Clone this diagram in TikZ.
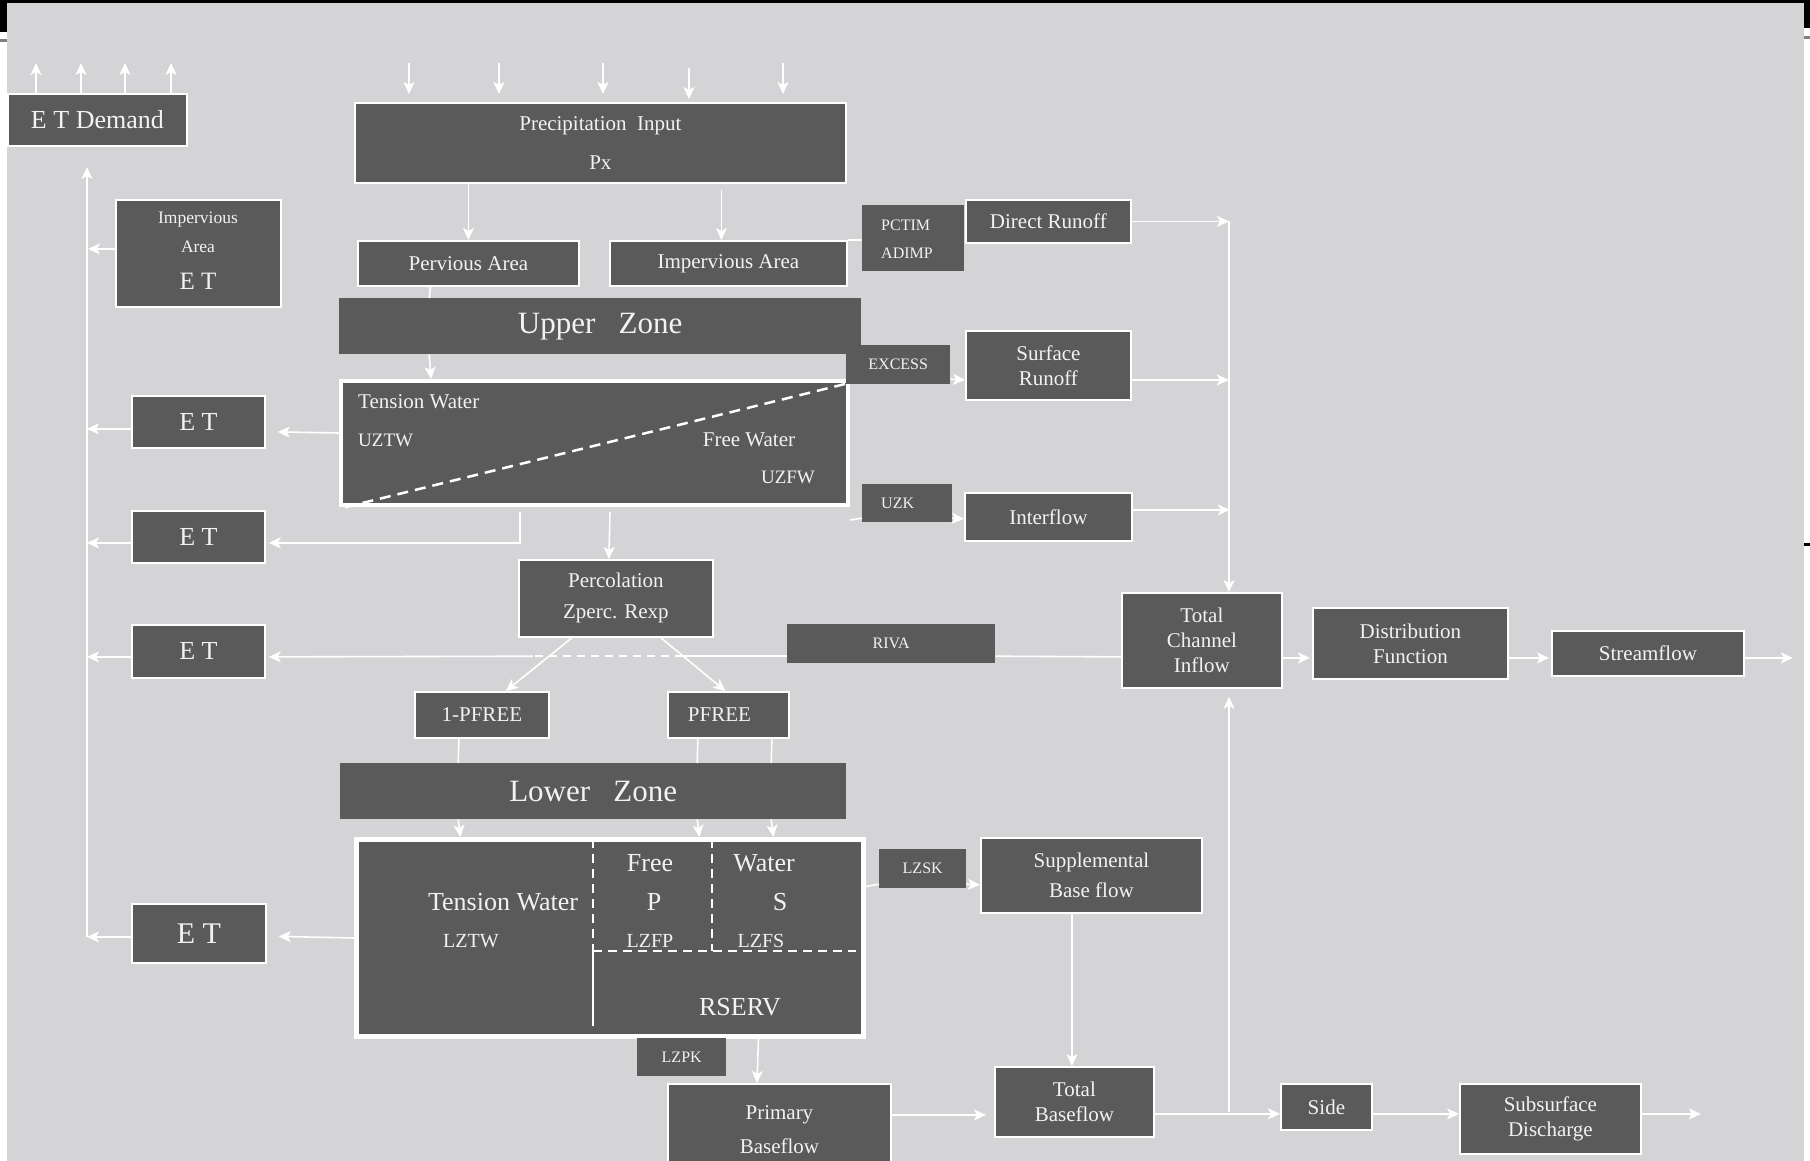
\documentclass[tikz,border=0pt]{standalone}
\usepackage{fontspec}
\setmainfont{Liberation Serif}
\usetikzlibrary{arrows.meta}
\definecolor{bgc}{HTML}{D4D4D6}
\definecolor{bxc}{HTML}{5A5A5A}
\definecolor{tx}{HTML}{F2F2F2}
\newcommand\fsz[2]{\fontsize{#1pt}{#2pt}\selectfont}
\begin{document}
\begin{tikzpicture}[x=1pt,y=-1pt,
  bx/.style={draw=white, line width=1.8pt, fill=bxc, text=tx, inner sep=0pt, align=center, anchor=north west, font=\fsz{21}{25}},
  lbl/.style={fill=bxc, draw=none, text=tx, inner sep=0pt, align=center, anchor=north west, font=\fsz{16}{28}},
  tt/.style={text=tx, inner sep=0pt},
  arr/.style={draw=white, line width=1.6pt, -{Stealth[length=12pt,width=11pt,inset=3pt]}},
  ln/.style={draw=white, line width=1.6pt},
  dsh/.style={draw=white, line width=2.5pt, dash pattern=on 9pt off 6pt},
  ]
\useasboundingbox (0,0) rectangle (1810,1161);
\clip (0,0) rectangle (1810,1161);
% background
\fill[white] (0,0) rectangle (1810,1161);
\fill[bgc] (7,3) rectangle (1804,1161);
\fill[black] (0,0) rectangle (1810,3);
\fill[black] (0,0) rectangle (7,32);
\fill[black] (1804,0) rectangle (1810,28);
\fill[gray] (0,39) rectangle (7,42);
\fill[gray] (1804,36) rectangle (1810,39);
\fill[black] (1804,543) rectangle (1810,546);

% ---------- nodes ----------
\node[bx, minimum width=179pt, minimum height=52pt, font=\fsz{26}{30}] (etd) at (7,93) {E T Demand};
\node[bx, minimum width=491pt, minimum height=80pt, font=\fsz{21}{39}] (precip) at (354,102) {Precipitation~~Input\\Px};
\node[bx, minimum width=221pt, minimum height=45pt] (perv) at (357,240) {Pervious Area};
\node[bx, minimum width=237pt, minimum height=45pt] (imp) at (609,240) {Impervious Area};
\node[lbl, minimum width=102pt, minimum height=66pt] (pctim) at (862,205) {};
\node[tt, anchor=west, font=\fsz{16}{20}] (pctimt) at (881,225) {PCTIM};
\node[tt, anchor=west, font=\fsz{16}{20}] (adimpt) at (881,253) {ADIMP};
\node[bx, minimum width=165pt, minimum height=43pt] (direct) at (965,199) {Direct Runoff};
\node[bx, minimum width=165pt, minimum height=107pt] (impet) at (115,199) {};
\node[tt, font=\fsz{17.5}{20}] (impett1) at (198,220) {Impervious};
\node[tt, font=\fsz{17.5}{20}] (impett2) at (198,247) {Area};
\node[tt, font=\fsz{25}{28}] (impett3) at (198,281) {E T};

\node[lbl, minimum width=522pt, minimum height=56pt, font=\fsz{31}{35}] (uz) at (339,298) {Upper~~~Zone};
\node[bx, line width=4pt, minimum width=507pt, minimum height=124pt] (ub) at (339,379) {};
\draw[dsh, dash pattern=on 11pt off 7pt] (845,384) -- (338,509);
\node[tt, anchor=west, font=\fsz{21}{25}] (ubt1) at (358,402) {Tension Water};
\node[tt, anchor=west, font=\fsz{19}{22}] (ubt2) at (358,440) {UZTW};
\node[tt, font=\fsz{21}{25}] (ubt3) at (749,440) {Free Water};
\node[tt, font=\fsz{19}{22}] (ubt4) at (788,477) {UZFW};
\node[lbl, minimum width=104pt, minimum height=39pt] (excess) at (846,345) {EXCESS};
\node[bx, minimum width=165pt, minimum height=69pt] (surface) at (965,330) {Surface\\Runoff};
\node[lbl, minimum width=90pt, minimum height=38pt] (uzk) at (862,484) {};
\node[tt, anchor=west, font=\fsz{16}{20}] (uzkt) at (881,503) {UZK};
\node[bx, minimum width=167pt, minimum height=48pt] (interflow) at (964,492) {Interflow};

\node[bx, minimum width=133pt, minimum height=52pt, font=\fsz{26}{30}] (et1) at (131,395) {E T};
\node[bx, minimum width=133pt, minimum height=52pt, font=\fsz{26}{30}] (et2) at (131,510) {E T};
\node[bx, minimum width=133pt, minimum height=53pt, font=\fsz{26}{30}] (et3) at (131,624) {E T};
\node[bx, minimum width=134pt, minimum height=59pt, font=\fsz{30}{34}] (et4) at (131,903) {E T};

\node[bx, minimum width=194pt, minimum height=77pt, font=\fsz{21}{31}] (perc) at (518,559) {Percolation\\Zperc. Rexp};
\node[lbl, minimum width=208pt, minimum height=39pt] (riva) at (787,624) {RIVA};
\node[bx, minimum width=160pt, minimum height=95pt] (tci) at (1121,592) {Total\\Channel\\Inflow};
\node[bx, minimum width=195pt, minimum height=71pt] (df) at (1312,607) {Distribution\\Function};
\node[bx, minimum width=192pt, minimum height=45pt] (sf) at (1551,630) {Streamflow};
\node[bx, minimum width=134pt, minimum height=46pt] (pf1) at (414,691) {1-PFREE};
\node[bx, minimum width=121pt, minimum height=46pt] (pf2) at (667,691) {PFREE\hspace{18pt}};

\node[lbl, minimum width=506pt, minimum height=56pt, font=\fsz{31}{35}] (lz) at (340,763) {Lower~~~Zone};
\node[bx, line width=5pt, minimum width=507pt, minimum height=197pt] (lb) at (354,837) {};
\draw[dsh] (593,839) -- (593,951);
\draw[dsh] (712,839) -- (712,951);
\draw[dsh] (593,951) -- (856,951);
\draw[ln, line width=2.5pt] (593,951) -- (593,1026);
\node[tt, font=\fsz{26}{30}] (lbt1) at (503,902) {Tension Water};
\node[tt, font=\fsz{20}{24}] (lbt2) at (471,941) {LZTW};
\node[tt, font=\fsz{26}{30}] (lbt3) at (650,863) {Free};
\node[tt, font=\fsz{26}{30}] (lbt4) at (654,902) {P};
\node[tt, font=\fsz{20}{24}] (lbt5) at (650,941) {LZFP};
\node[tt, font=\fsz{26}{30}] (lbt6) at (764,863) {Water};
\node[tt, font=\fsz{26}{30}] (lbt7) at (780,902) {S};
\node[tt, font=\fsz{20}{24}] (lbt8) at (761,941) {LZFS};
\node[tt, font=\fsz{26}{30}] (lbt9) at (740,1007) {RSERV};

\node[lbl, minimum width=87pt, minimum height=39pt] (lzsk) at (879,849) {LZSK};
\node[bx, minimum width=221pt, minimum height=75pt, font=\fsz{21}{30}] (supp) at (980,837) {Supplemental\\Base flow};
\node[lbl, minimum width=89pt, minimum height=38pt] (lzpk) at (637,1038) {LZPK};
\node[bx, minimum width=223pt, minimum height=92pt, font=\fsz{21}{34}] (primary) at (667,1083) {Primary\\Baseflow};
\node[bx, minimum width=159pt, minimum height=70pt] (tbf) at (994,1066) {Total\\Baseflow};
\node[bx, minimum width=91pt, minimum height=46pt] (side) at (1280,1083) {Side};
\node[bx, minimum width=181pt, minimum height=70pt] (subs) at (1459,1083) {Subsurface\\Discharge};

\coordinate (mx) at (1229,0);
\coordinate (lxb) at (87,937);
\coordinate (lxt) at (87,167);
\coordinate (jb) at (1229,1112);

% ---------- connectors ----------
\foreach \dx in {29,74,118,164}
  \draw[arr] ([xshift=\dx pt]etd.north west) -- ([xshift=\dx pt,yshift=30pt]etd.north west);
\foreach \dx in {55,145,249,429}
  \draw[arr] ([xshift=\dx pt,yshift=39pt]precip.north west) -- ([xshift=\dx pt,yshift=8pt]precip.north west);
\draw[arr] ([xshift=335pt,yshift=34pt]precip.north west) -- ([xshift=335pt,yshift=3pt]precip.north west);

\draw[arr] (precip.south -| perv.north) -- (perv.north);
\draw[arr] ([xshift=-7pt,yshift=50pt]imp.north) -- ([xshift=-7pt]imp.north);
\draw[ln] (imp.north east) -- (imp.north east -| pctim.west);
\draw[arr] (direct.east) -- (direct.east -| mx);
\draw[arr] ([yshift=-14.5pt]surface.east) -- ([yshift=-14.5pt,xshift=97pt]surface.east);
\draw[arr] ([yshift=7pt]interflow.east) -- ([yshift=7pt,xshift=97pt]interflow.east);
\draw[arr] (direct.east -| mx) -- (tci.north -| mx);

\draw[arr] ([yshift=4.5pt]impet.west) -- ([yshift=4.5pt,xshift=-27pt]impet.west);
\draw[arr] (lxb) -- (lxt);

\draw[ln] ([xshift=-38pt]perv.south) -- ([xshift=-171pt]uz.north);
\draw[arr] ([xshift=-171pt]uz.south) -- ([xshift=-163.5pt]ub.north);

\draw[arr] ([yshift=10pt]ub.west) -- ([xshift=12pt,yshift=-10pt]et1.east);
\draw[arr] ([yshift=-7pt]et1.west) -- ([yshift=-7pt,xshift=-44pt]et1.west);
\draw[arr] ([xshift=-74.5pt,yshift=-5pt]ub.south) |- ([xshift=3pt,yshift=-6pt]et2.east);
\draw[arr] ([yshift=-6pt]et2.west) -- ([yshift=-6pt,xshift=-44pt]et2.west);
\draw[arr] ([xshift=15.5pt,yshift=-5pt]ub.south) -- ([xshift=-7pt]perc.north);

\draw[arr] ([xshift=-44pt]perc.south) -- ([xshift=24pt]pf1.north);
\draw[arr] ([xshift=45pt]perc.south) -- ([xshift=-3pt]pf2.north);

\draw[ln] ([yshift=-12.5pt]riva.west) -- ([xshift=-104pt,yshift=-12.5pt]riva.west);
\draw[ln, dash pattern=on 8pt off 6pt] ([xshift=-104pt,yshift=-12.5pt]riva.west) -- ([xshift=-254pt,yshift=-12.5pt]riva.west);
\draw[arr] ([xshift=-254pt,yshift=-12.5pt]riva.west) -- ([xshift=3pt,yshift=-5.5pt]et3.east);
\draw[arr] ([yshift=-5.5pt]et3.west) -- ([yshift=-5.5pt,xshift=-44pt]et3.west);
\draw[ln] ([yshift=-12.5pt]riva.east) -- ([yshift=-16.5pt]tci.west);

\draw[arr] ([yshift=-17.5pt]tci.east) -- ([xshift=-2pt,yshift=-14.5pt]df.west);
\draw[arr] ([yshift=-14.5pt]df.east) -- ([xshift=-2pt,yshift=-4.5pt]sf.west);
\draw[arr] ([yshift=-4.5pt]sf.east) -- ([yshift=-4.5pt,xshift=48pt]sf.east);

\draw[ln] ([xshift=-23pt]pf1.south) -- ([xshift=-135pt]lz.north);
\draw[ln] ([xshift=-30.5pt]pf2.south) -- ([xshift=104pt]lz.north);
\draw[ln] ([xshift=43.5pt]pf2.south) -- ([xshift=178pt]lz.north);
\draw[arr] ([xshift=-135pt]lz.south) -- ([xshift=-149.5pt]lb.north);
\draw[arr] ([xshift=104pt]lz.south) -- ([xshift=89.5pt]lb.north);
\draw[arr] ([xshift=178pt]lz.south) -- ([xshift=163.5pt]lb.north);

\draw[arr] (lb.west) -- ([xshift=12pt,yshift=-3pt]et4.east);
\draw[arr] ([yshift=-3.5pt]et4.west) -- ([yshift=-3.5pt,xshift=-44pt]et4.west);
\draw[ln] ([yshift=51.5pt]lb.east) -- ([yshift=-15.5pt]lzsk.west);
\draw[arr] ([yshift=-15.5pt]lzsk.east) -- ([yshift=-9.5pt]supp.west);
\draw[arr] ([xshift=-19.5pt]supp.south) -- ([xshift=-2.5pt]tbf.north);
\draw[arr] ([xshift=148.5pt]lb.south) -- ([xshift=-22.5pt]primary.north);
\draw[arr] ([yshift=15pt]primary.east) -- ([xshift=-8pt,yshift=-13pt]tbf.west);
\draw[arr] ([yshift=-12pt]tbf.east) -- ([yshift=-7pt]side.west);
\draw[arr, shorten >=8pt] (jb) -- (mx |- tci.south);
\draw[arr] ([yshift=-7pt]side.east) -- ([yshift=5pt]subs.west);
\draw[arr] ([yshift=5pt]subs.east) -- ([yshift=5pt,xshift=59pt]subs.east);

\draw[ln] ([yshift=-77pt]ub.east) -- ([yshift=-15pt]uzk.west);
\draw[arr] ([yshift=-15pt]uzk.east) -- ([yshift=-2pt]interflow.west);
\draw[arr] ([yshift=-14.5pt]excess.east) -- ([yshift=-14.5pt]surface.west);
\end{tikzpicture}
\end{document}
